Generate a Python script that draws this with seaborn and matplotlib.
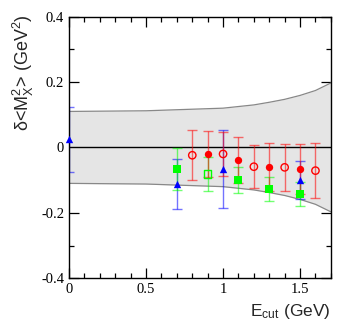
import numpy as np
import pandas as pd
import seaborn as sns
import matplotlib
matplotlib.use("Agg")
import matplotlib.pyplot as plt
from matplotlib.ticker import MultipleLocator

# band (systematic error) +/- half width vs E_cut
band_x = [0.0, 0.5, 1.0, 1.2, 1.3, 1.4, 1.5, 1.6, 1.7]
band_w = [0.110, 0.112, 0.120, 0.130, 0.138, 0.147, 0.159, 0.174, 0.197]

# red filled circles
red_x = [0.9, 1.1, 1.3, 1.5]
red_y = [-0.019, -0.038, -0.060, -0.066]
red_e = [0.070, 0.070, 0.072, 0.077]

# red open circles
redo_x = [0.8, 1.0, 1.2, 1.4, 1.6]
redo_y = [-0.024, -0.020, -0.059, -0.061, -0.071]
redo_e = [0.077, 0.066, 0.065, 0.072, 0.085]

# green filled squares
grn_x = [0.7, 1.1, 1.3, 1.5]
grn_y = [-0.067, -0.099, -0.128, -0.143]
grn_e = [0.064, 0.039, 0.036, 0.037]

# green open square
grno_x = [0.9]
grno_y = [-0.081]
grno_e = [0.053]

# blue triangles
blu_x = [0.0, 0.7, 1.0, 1.5]
blu_y = [0.025, -0.111, -0.066, -0.101]
blu_e = [0.100, 0.077, 0.119, 0.058]

sns.set_style("ticks")
plt.rcParams["mathtext.fontset"] = "custom"
plt.rcParams["mathtext.rm"] = "Liberation Sans"
plt.rcParams["mathtext.it"] = "Liberation Sans:italic"

fig = plt.figure(figsize=(3.49, 3.32), dpi=100)
ax = fig.add_axes([0.198, 0.162, 0.750, 0.788])

ax.fill_between(band_x, [-w for w in band_w], band_w, color="#e5e5e5", lw=0)
ax.plot(band_x, band_w, color="#888888", lw=0.9)
ax.plot(band_x, [-w for w in band_w], color="#888888", lw=0.9)
ax.axhline(0, color="black", lw=1.0)

series = [
    (blu_x, blu_y, blu_e, "#0000ff", "^", True),
    (grn_x, grn_y, grn_e, "#00ff00", "s", True),
    (grno_x, grno_y, grno_e, "#00ff00", "s", False),
    (redo_x, redo_y, redo_e, "#ff0000", "o", False),
    (red_x, red_y, red_e, "#ff0000", "o", True),
]
for xs, ys, es, c, m, filled in series:
    ax.errorbar(xs, ys, yerr=es, fmt="none", ecolor=c, alpha=0.55,
                elinewidth=1.0, capsize=3.6, capthick=1.0)
    df = pd.DataFrame({"x": xs, "y": ys})
    sns.scatterplot(data=df, x="x", y="y", ax=ax, marker=m, s=28,
                    color=c if filled else "none", edgecolor=c,
                    linewidth=1.0 if not filled else 0, zorder=5,
                    clip_on=False)

ax.set_xlim(0, 1.7)
ax.set_ylim(-0.4, 0.4)
ax.xaxis.set_minor_locator(MultipleLocator(0.1))
ax.yaxis.set_minor_locator(MultipleLocator(0.1))
ax.set_xticks([0, 0.5, 1, 1.5])
ax.set_xticklabels(["0", "0.5", "1", "1.5"])
ax.set_yticks([-0.4, -0.2, 0, 0.2, 0.4])
ax.set_yticklabels(["-0.4", "-0.2", "0", "0.2", "0.4"])
ax.tick_params(which="both", direction="in", top=True, right=True,
               colors="black", labelsize=10.5)
ax.tick_params(which="major", length=7, width=0.9)
ax.tick_params(which="minor", length=3.5, width=0.9)
for lab in ax.get_xticklabels() + ax.get_yticklabels():
    lab.set_family("Liberation Serif")
for sp in ax.spines.values():
    sp.set_color("black")
    sp.set_linewidth(1.0)

ax.set_xlabel(r"E$_{\mathrm{cut}}$ (GeV)", loc="right", fontsize=12.5,
              family="Liberation Sans")
ax.set_ylabel("δ<M$_{\\mathrm{X}}^{2}$> (GeV$^{2}$)", loc="top", fontsize=13,
              family="Liberation Sans")
ax.xaxis.set_label_coords(1.0, -0.09)
ax.yaxis.set_label_coords(-0.125, 1.01)

fig.savefig("out.png", dpi=100)
